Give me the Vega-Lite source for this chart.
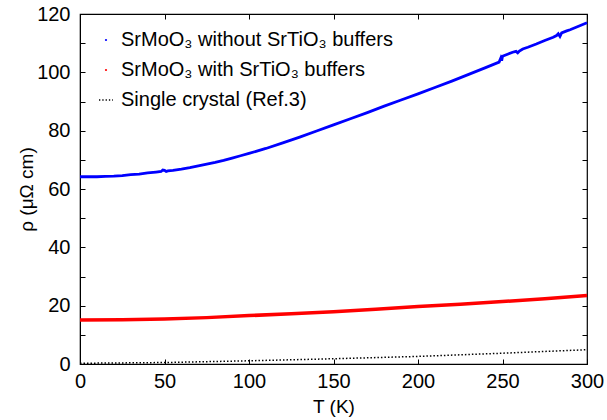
{
  "$schema": "https://vega.github.io/schema/vega-lite/v6.json",
  "width": 507,
  "height": 350,
  "autosize": {"type": "none"},
  "padding": {"left": 80, "top": 14, "right": 20, "bottom": 56},
  "background": "white",
  "config": {
    "font": "Liberation Sans",
    "view": {"stroke": "black", "strokeWidth": 1.2},
    "axis": {
      "domainColor": "black",
      "tickColor": "black",
      "labelColor": "black",
      "titleColor": "black",
      "grid": false,
      "tickSize": -5,
      "tickWidth": 1
    }
  },
  "datasets": {
    "all": [
      {"T": 0, "rho": 64.2, "series": "SrMoO₃ without SrTiO₃ buffers"},
      {"T": 5, "rho": 64.2, "series": "SrMoO₃ without SrTiO₃ buffers"},
      {"T": 10, "rho": 64.2, "series": "SrMoO₃ without SrTiO₃ buffers"},
      {"T": 15, "rho": 64.3, "series": "SrMoO₃ without SrTiO₃ buffers"},
      {"T": 20, "rho": 64.4, "series": "SrMoO₃ without SrTiO₃ buffers"},
      {"T": 25, "rho": 64.6, "series": "SrMoO₃ without SrTiO₃ buffers"},
      {"T": 30, "rho": 64.9, "series": "SrMoO₃ without SrTiO₃ buffers"},
      {"T": 35, "rho": 65.1, "series": "SrMoO₃ without SrTiO₃ buffers"},
      {"T": 40, "rho": 65.5, "series": "SrMoO₃ without SrTiO₃ buffers"},
      {"T": 45, "rho": 65.8, "series": "SrMoO₃ without SrTiO₃ buffers"},
      {"T": 48, "rho": 66.0, "series": "SrMoO₃ without SrTiO₃ buffers"},
      {"T": 49, "rho": 66.5, "series": "SrMoO₃ without SrTiO₃ buffers"},
      {"T": 50, "rho": 66.4, "series": "SrMoO₃ without SrTiO₃ buffers"},
      {"T": 51, "rho": 66.0, "series": "SrMoO₃ without SrTiO₃ buffers"},
      {"T": 52, "rho": 66.2, "series": "SrMoO₃ without SrTiO₃ buffers"},
      {"T": 55, "rho": 66.4, "series": "SrMoO₃ without SrTiO₃ buffers"},
      {"T": 60, "rho": 66.8, "series": "SrMoO₃ without SrTiO₃ buffers"},
      {"T": 65, "rho": 67.3, "series": "SrMoO₃ without SrTiO₃ buffers"},
      {"T": 70, "rho": 67.9, "series": "SrMoO₃ without SrTiO₃ buffers"},
      {"T": 75, "rho": 68.5, "series": "SrMoO₃ without SrTiO₃ buffers"},
      {"T": 80, "rho": 69.1, "series": "SrMoO₃ without SrTiO₃ buffers"},
      {"T": 85, "rho": 69.8, "series": "SrMoO₃ without SrTiO₃ buffers"},
      {"T": 90, "rho": 70.6, "series": "SrMoO₃ without SrTiO₃ buffers"},
      {"T": 95, "rho": 71.4, "series": "SrMoO₃ without SrTiO₃ buffers"},
      {"T": 100, "rho": 72.2, "series": "SrMoO₃ without SrTiO₃ buffers"},
      {"T": 110, "rho": 73.9, "series": "SrMoO₃ without SrTiO₃ buffers"},
      {"T": 120, "rho": 75.8, "series": "SrMoO₃ without SrTiO₃ buffers"},
      {"T": 130, "rho": 77.8, "series": "SrMoO₃ without SrTiO₃ buffers"},
      {"T": 140, "rho": 79.9, "series": "SrMoO₃ without SrTiO₃ buffers"},
      {"T": 150, "rho": 82.0, "series": "SrMoO₃ without SrTiO₃ buffers"},
      {"T": 160, "rho": 84.1, "series": "SrMoO₃ without SrTiO₃ buffers"},
      {"T": 170, "rho": 86.2, "series": "SrMoO₃ without SrTiO₃ buffers"},
      {"T": 180, "rho": 88.4, "series": "SrMoO₃ without SrTiO₃ buffers"},
      {"T": 190, "rho": 90.5, "series": "SrMoO₃ without SrTiO₃ buffers"},
      {"T": 200, "rho": 92.6, "series": "SrMoO₃ without SrTiO₃ buffers"},
      {"T": 210, "rho": 94.8, "series": "SrMoO₃ without SrTiO₃ buffers"},
      {"T": 220, "rho": 97.0, "series": "SrMoO₃ without SrTiO₃ buffers"},
      {"T": 230, "rho": 99.3, "series": "SrMoO₃ without SrTiO₃ buffers"},
      {"T": 240, "rho": 101.6, "series": "SrMoO₃ without SrTiO₃ buffers"},
      {"T": 248, "rho": 103.5, "series": "SrMoO₃ without SrTiO₃ buffers"},
      {"T": 249, "rho": 104.9, "series": "SrMoO₃ without SrTiO₃ buffers"},
      {"T": 249.5, "rho": 104.0, "series": "SrMoO₃ without SrTiO₃ buffers"},
      {"T": 250, "rho": 105.5, "series": "SrMoO₃ without SrTiO₃ buffers"},
      {"T": 253, "rho": 106.2, "series": "SrMoO₃ without SrTiO₃ buffers"},
      {"T": 256, "rho": 106.9, "series": "SrMoO₃ without SrTiO₃ buffers"},
      {"T": 258, "rho": 107.2, "series": "SrMoO₃ without SrTiO₃ buffers"},
      {"T": 259, "rho": 106.7, "series": "SrMoO₃ without SrTiO₃ buffers"},
      {"T": 260, "rho": 107.3, "series": "SrMoO₃ without SrTiO₃ buffers"},
      {"T": 262, "rho": 108.0, "series": "SrMoO₃ without SrTiO₃ buffers"},
      {"T": 265, "rho": 108.6, "series": "SrMoO₃ without SrTiO₃ buffers"},
      {"T": 270, "rho": 109.7, "series": "SrMoO₃ without SrTiO₃ buffers"},
      {"T": 275, "rho": 110.9, "series": "SrMoO₃ without SrTiO₃ buffers"},
      {"T": 280, "rho": 112.0, "series": "SrMoO₃ without SrTiO₃ buffers"},
      {"T": 282, "rho": 112.6, "series": "SrMoO₃ without SrTiO₃ buffers"},
      {"T": 283, "rho": 113.2, "series": "SrMoO₃ without SrTiO₃ buffers"},
      {"T": 284, "rho": 112.3, "series": "SrMoO₃ without SrTiO₃ buffers"},
      {"T": 285, "rho": 113.5, "series": "SrMoO₃ without SrTiO₃ buffers"},
      {"T": 288, "rho": 114.2, "series": "SrMoO₃ without SrTiO₃ buffers"},
      {"T": 290, "rho": 114.6, "series": "SrMoO₃ without SrTiO₃ buffers"},
      {"T": 295, "rho": 115.8, "series": "SrMoO₃ without SrTiO₃ buffers"},
      {"T": 300, "rho": 117.0, "series": "SrMoO₃ without SrTiO₃ buffers"},
      {"T": 0, "rho": 15.1, "series": "SrMoO₃ with SrTiO₃ buffers"},
      {"T": 25, "rho": 15.2, "series": "SrMoO₃ with SrTiO₃ buffers"},
      {"T": 50, "rho": 15.4, "series": "SrMoO₃ with SrTiO₃ buffers"},
      {"T": 75, "rho": 15.9, "series": "SrMoO₃ with SrTiO₃ buffers"},
      {"T": 100, "rho": 16.6, "series": "SrMoO₃ with SrTiO₃ buffers"},
      {"T": 125, "rho": 17.2, "series": "SrMoO₃ with SrTiO₃ buffers"},
      {"T": 150, "rho": 17.9, "series": "SrMoO₃ with SrTiO₃ buffers"},
      {"T": 175, "rho": 18.8, "series": "SrMoO₃ with SrTiO₃ buffers"},
      {"T": 200, "rho": 19.7, "series": "SrMoO₃ with SrTiO₃ buffers"},
      {"T": 225, "rho": 20.5, "series": "SrMoO₃ with SrTiO₃ buffers"},
      {"T": 250, "rho": 21.4, "series": "SrMoO₃ with SrTiO₃ buffers"},
      {"T": 275, "rho": 22.4, "series": "SrMoO₃ with SrTiO₃ buffers"},
      {"T": 300, "rho": 23.5, "series": "SrMoO₃ with SrTiO₃ buffers"},
      {"T": 0, "rho": 0.25, "series": "Single crystal (Ref.3)"},
      {"T": 50, "rho": 0.5, "series": "Single crystal (Ref.3)"},
      {"T": 100, "rho": 1.1, "series": "Single crystal (Ref.3)"},
      {"T": 150, "rho": 1.8, "series": "Single crystal (Ref.3)"},
      {"T": 200, "rho": 2.6, "series": "Single crystal (Ref.3)"},
      {"T": 250, "rho": 3.7, "series": "Single crystal (Ref.3)"},
      {"T": 300, "rho": 4.9, "series": "Single crystal (Ref.3)"}
    ]
  },
  "data": {"name": "all"},
  "resolve": {"axis": {"x": "independent", "y": "independent"}},
  "layer": [
    {
      "transform": [{"filter": "datum.series === 'SrMoO₃ without SrTiO₃ buffers'"}],
      "mark": {"type": "line", "strokeWidth": 2.8},
      "encoding": {
        "x": {
          "field": "T", "type": "quantitative",
          "scale": {"domain": [0, 300], "nice": false, "zero": false},
          "axis": {"title": "T (K)", "values": [0, 50, 100, 150, 200, 250, 300], "labelFontSize": 20, "titleFontSize": 19, "titleFontWeight": "normal", "labelPadding": 12, "titlePadding": 6, "labelFlush": false}
        },
        "y": {
          "field": "rho", "type": "quantitative",
          "scale": {"domain": [0, 120], "nice": false},
          "axis": {"title": "ρ (μΩ cm)", "values": [0, 10, 20, 30, 40, 50, 60, 70, 80, 90, 100, 110, 120], "labelExpr": "datum.value % 20 == 0 ? datum.label : ''", "labelFontSize": 20, "titleFontSize": 19, "titleFontWeight": "normal", "labelPadding": 15, "titlePadding": 0, "labelFlush": false}
        },
        "color": {
          "field": "series", "type": "nominal",
          "scale": {
            "domain": ["SrMoO₃ without SrTiO₃ buffers", "SrMoO₃ with SrTiO₃ buffers", "Single crystal (Ref.3)"],
            "range": ["#0000ff", "#ff0000", "#000000"]
          },
          "legend": {
            "title": null,
            "orient": "top-left",
            "offset": 16,
            "padding": 0,
            "rowPadding": 10,
            "labelFontSize": 20,
            "labelLimit": 0,
            "labelColor": "black",
            "symbolType": "stroke",
            "symbolSize": 196,
            "labelOffset": 5,
            "symbolStrokeWidth": 1.3,
            "encode": {
              "symbols": {
                "update": {
                  "shape": {"signal": "datum.value === 'Single crystal (Ref.3)' ? 'stroke' : 'circle'"},
                  "size": {"signal": "datum.value === 'Single crystal (Ref.3)' ? 196 : 5"},
                  "strokeWidth": {"signal": "datum.value === 'Single crystal (Ref.3)' ? 1.3 : 0"},
                  "strokeDash": {"value": [1.3, 2]},
                  "fill": {"signal": "datum.value === 'Single crystal (Ref.3)' ? 'transparent' : (datum.value === 'SrMoO₃ with SrTiO₃ buffers' ? '#ff0000' : '#0000ff')"}
                }
              }
            }
          }
        }
      }
    },
    {
      "transform": [{"filter": "datum.series === 'SrMoO₃ with SrTiO₃ buffers'"}],
      "mark": {"type": "line", "strokeWidth": 3.5},
      "encoding": {
        "x": {"field": "T", "type": "quantitative", "axis": null},
        "y": {"field": "rho", "type": "quantitative", "axis": null},
        "color": {"field": "series", "type": "nominal"}
      }
    },
    {
      "transform": [{"filter": "datum.series === 'Single crystal (Ref.3)'"}],
      "mark": {"type": "line", "strokeWidth": 1.5, "strokeDash": [1.5, 2]},
      "encoding": {
        "x": {"field": "T", "type": "quantitative", "axis": null},
        "y": {"field": "rho", "type": "quantitative", "axis": null},
        "color": {"field": "series", "type": "nominal"}
      }
    },
    {
      "mark": {"type": "line", "opacity": 0},
      "encoding": {
        "x": {"field": "T", "type": "quantitative", "axis": {"orient": "top", "title": null, "labels": false, "domain": false, "values": [0, 50, 100, 150, 200, 250, 300]}},
        "y": {"field": "rho", "type": "quantitative", "axis": {"orient": "right", "title": null, "labels": false, "domain": false, "values": [0, 10, 20, 30, 40, 50, 60, 70, 80, 90, 100, 110, 120]}},
        "detail": {"field": "series"}
      }
    }
  ]
}
